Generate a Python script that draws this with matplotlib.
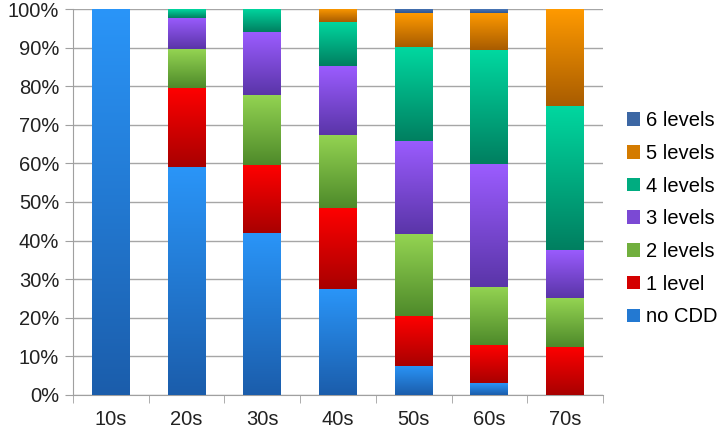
import numpy as np
import matplotlib
matplotlib.use("Agg")
import matplotlib.pyplot as plt
from matplotlib.colors import LinearSegmentedColormap

plt.rcParams["font.family"] = ["Liberation Sans", "DejaVu Sans"]

categories = ["10s", "20s", "30s", "40s", "50s", "60s", "70s"]
series_names = ["no CDD", "1 level", "2 levels", "3 levels", "4 levels", "5 levels", "6 levels"]

no_cdd = [100, 59.0, 42.0, 27.4, 7.6, 3.1, 0]
level_1 = [0, 20.6, 17.6, 21.0, 12.9, 9.8, 12.5]
level_2 = [0, 10.0, 18.2, 19.0, 21.2, 15.2, 12.5]
level_3 = [0, 8.1, 16.2, 17.8, 24.2, 31.7, 12.5]
level_4 = [0, 2.3, 6.0, 11.4, 24.3, 29.5, 37.5]
level_5 = [0, 0, 0, 3.4, 8.7, 9.7, 25.0]
level_6 = [0, 0, 0, 0, 1.1, 1.0, 0]

# (top colour, bottom colour) for the vertical gradient of each series
grad_colors = [
    ("#2A95F8", "#1B5DAB"),
    ("#FF0000", "#A80000"),
    ("#94D452", "#4E8A2A"),
    ("#9B5CFF", "#5A35A8"),
    ("#00D8A0", "#007F60"),
    ("#FF9A00", "#A85C00"),
    ("#4A78B8", "#2E5590"),
]

series = [no_cdd, level_1, level_2, level_3, level_4, level_5, level_6]

fig = plt.figure(figsize=(7.2, 4.29), dpi=100)
ax = fig.add_axes([0.1014, 0.0793, 0.736, 0.8997])

x = np.arange(len(categories))
bottom = np.zeros(len(categories))
grad = np.linspace(0, 1, 256).reshape(-1, 1)
handles = []
for name, vals, (top_c, bot_c) in zip(series_names, series, grad_colors):
    vals = np.array(vals, dtype=float)
    cmap = LinearSegmentedColormap.from_list(name, [bot_c, top_c])
    bars = ax.bar(x, vals, 0.5, bottom=bottom, color=cmap(0.5), label=name, zorder=2, linewidth=0)
    for rect, v in zip(bars, vals):
        if v <= 0:
            continue
        x0, y0 = rect.get_x(), rect.get_y()
        ax.imshow(grad, cmap=cmap, aspect="auto", origin="lower",
                  extent=(x0, x0 + rect.get_width(), y0, y0 + rect.get_height()),
                  zorder=3, interpolation="bilinear")
    handles.append(bars)
    bottom += vals

ax.set_xlim(-0.5, len(categories) - 0.5)
ax.set_ylim(0, 100)
ax.set_yticks(np.arange(0, 101, 10))
ax.set_yticklabels([f"{v}%" for v in range(0, 101, 10)], fontsize=14.5, color="#222222")
ax.set_xticks(x)
ax.set_xticklabels(categories, fontsize=14.5, color="#222222")
ax.set_xticks(np.arange(-0.5, len(categories), 1), minor=True)
ax.tick_params(axis="x", which="major", length=0, pad=11)
ax.tick_params(axis="x", which="minor", length=6, color="#A0A0A0", direction="out")
ax.tick_params(axis="y", length=6, color="#A0A0A0", pad=4)
ax.grid(axis="y", color="#A6A6A6", linewidth=1, zorder=0)
ax.set_axisbelow(True)
for s in ["top", "right"]:
    ax.spines[s].set_visible(False)
ax.spines["left"].set_color("#A0A0A0")
ax.spines["bottom"].set_color("#A0A0A0")

leg = fig.legend(handles[::-1], series_names[::-1], loc="center left",
                 bbox_to_anchor=(0.845, 0.49), frameon=False, fontsize=14.5,
                 handlelength=0.65, handleheight=0.65, handletextpad=0.3,
                 labelspacing=0.68)

fig.savefig("out.png", dpi=100)
